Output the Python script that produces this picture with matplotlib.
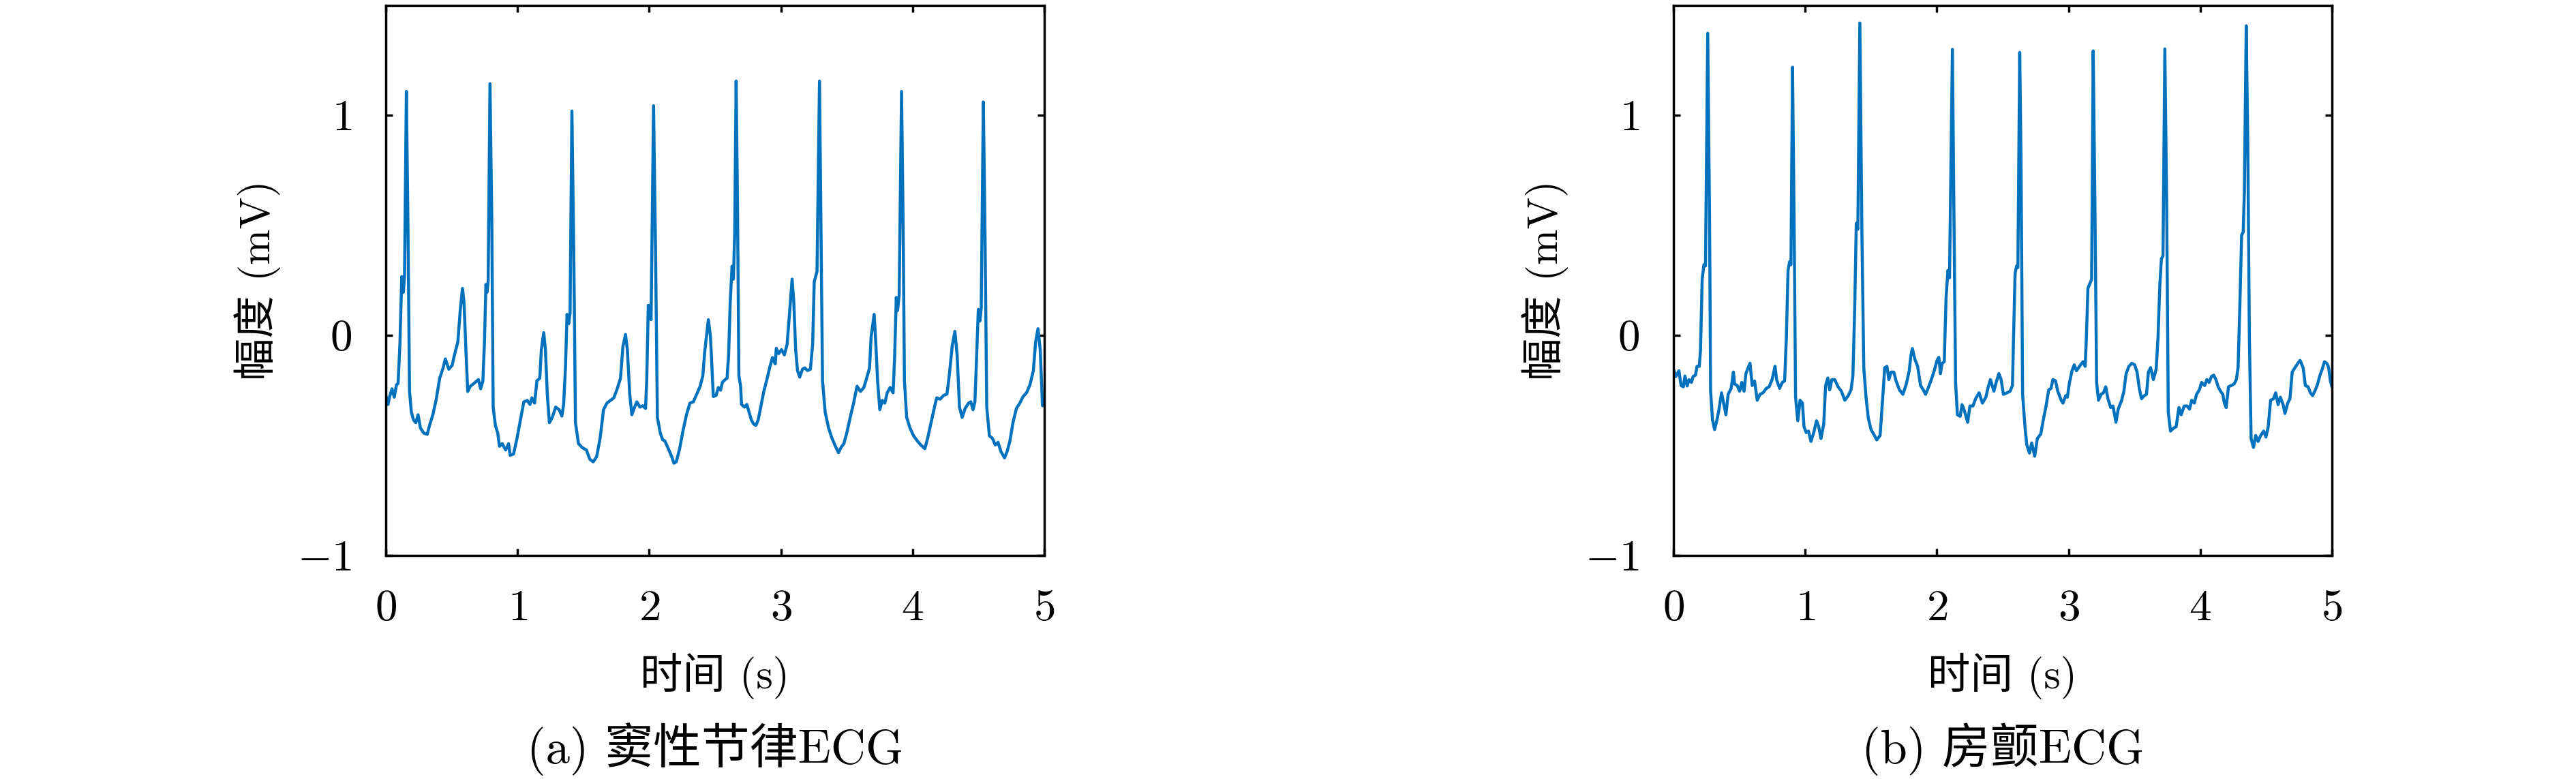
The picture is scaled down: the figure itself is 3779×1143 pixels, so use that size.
import matplotlib
matplotlib.use('Agg')
import matplotlib.pyplot as plt

plt.rcParams['mathtext.fontset'] = 'cm'
plt.rcParams['font.family'] = ['cmr10', 'Noto Sans CJK SC', 'DejaVu Sans']
plt.rcParams['axes.unicode_minus'] = False

# ---------------- data ----------------
sinus_t = [0.000, 0.017, 0.029, 0.047, 0.064, 0.081, 0.093, 0.107, 0.121, 0.133, 0.142, 0.156, 0.168, 0.180,
           0.194, 0.211, 0.228, 0.245, 0.263, 0.288, 0.314, 0.335, 0.357, 0.383, 0.409, 0.435, 0.452, 0.478,
           0.504, 0.521, 0.547, 0.565, 0.582, 0.594, 0.608, 0.622, 0.642, 0.668, 0.703, 0.720, 0.737, 0.749,
           0.760, 0.768, 0.777, 0.791, 0.805, 0.815, 0.832, 0.850, 0.863, 0.884, 0.910, 0.932, 0.944, 0.970,
           0.996, 1.022, 1.048, 1.074, 1.095, 1.109, 1.130, 1.147, 1.169, 1.181, 1.199, 1.212, 1.226, 1.242,
           1.264, 1.290, 1.316, 1.337, 1.350, 1.364, 1.376, 1.389, 1.399, 1.413, 1.427, 1.440, 1.463, 1.489,
           1.523, 1.549, 1.575, 1.601, 1.627, 1.653, 1.679, 1.705, 1.731, 1.757, 1.782, 1.800, 1.820, 1.834,
           1.852, 1.868, 1.889, 1.906, 1.929, 1.951, 1.972, 1.981, 1.993, 2.003, 2.014, 2.033, 2.048, 2.062,
           2.084, 2.102, 2.119, 2.145, 2.171, 2.188, 2.205, 2.231, 2.257, 2.283, 2.309, 2.335, 2.361, 2.387,
           2.407, 2.421, 2.449, 2.465, 2.487, 2.508, 2.525, 2.542, 2.556, 2.577, 2.591, 2.603, 2.615, 2.629,
           2.639, 2.649, 2.660, 2.670, 2.681, 2.694, 2.701, 2.724, 2.741, 2.758, 2.776, 2.793, 2.810, 2.827,
           2.845, 2.870, 2.896, 2.914, 2.936, 2.957, 2.965, 2.983, 3.005, 3.026, 3.047, 3.064, 3.085, 3.098,
           3.112, 3.126, 3.143, 3.164, 3.181, 3.202, 3.224, 3.241, 3.253, 3.264, 3.274, 3.293, 3.305, 3.316,
           3.336, 3.362, 3.388, 3.414, 3.437, 3.457, 3.478, 3.500, 3.526, 3.552, 3.578, 3.604, 3.630, 3.651,
           3.673, 3.685, 3.708, 3.720, 3.734, 3.751, 3.769, 3.789, 3.807, 3.829, 3.852, 3.864, 3.876, 3.886,
           3.898, 3.916, 3.928, 3.938, 3.955, 3.980, 4.007, 4.036, 4.062, 4.093, 4.114, 4.140, 4.166, 4.183,
           4.209, 4.235, 4.261, 4.278, 4.301, 4.321, 4.338, 4.356, 4.376, 4.399, 4.425, 4.442, 4.459, 4.473,
           4.485, 4.499, 4.511, 4.521, 4.537, 4.549, 4.563, 4.583, 4.606, 4.628, 4.649, 4.670, 4.698, 4.718,
           4.739, 4.762, 4.788, 4.814, 4.839, 4.865, 4.891, 4.917, 4.934, 4.952, 4.969, 4.986, 5.000]
sinus_v = [-0.273, -0.314, -0.278, -0.243, -0.281, -0.225, -0.219, -0.041, 0.267, 0.195, 0.267, 1.108, 0.504, -0.255,
           -0.349, -0.385, -0.397, -0.361, -0.421, -0.444, -0.450, -0.403, -0.361, -0.290, -0.195, -0.148, -0.107, -0.154,
           -0.136, -0.089, -0.030, 0.113, 0.213, 0.148, -0.065, -0.255, -0.231, -0.219, -0.201, -0.243, -0.207, -0.030,
           0.231, 0.195, 0.243, 1.143, 0.504, -0.326, -0.409, -0.444, -0.504, -0.492, -0.521, -0.492, -0.545, -0.539,
           -0.468, -0.385, -0.302, -0.296, -0.314, -0.284, -0.308, -0.207, -0.195, -0.065, 0.012, -0.065, -0.267, -0.397,
           -0.373, -0.326, -0.338, -0.367, -0.314, -0.148, 0.095, 0.053, 0.101, 1.019, 0.385, -0.397, -0.492, -0.509,
           -0.521, -0.563, -0.575, -0.551, -0.468, -0.338, -0.308, -0.296, -0.284, -0.243, -0.195, -0.053, 0.004, -0.065,
           -0.267, -0.361, -0.326, -0.302, -0.326, -0.320, -0.332, -0.207, 0.136, 0.136, 0.071, 1.043, 0.385, -0.373,
           -0.444, -0.474, -0.480, -0.515, -0.551, -0.581, -0.575, -0.515, -0.432, -0.361, -0.308, -0.302, -0.267, -0.231,
           -0.184, -0.077, 0.071, -0.006, -0.278, -0.273, -0.237, -0.249, -0.213, -0.201, -0.195, -0.089, 0.148, 0.314,
           0.255, 0.456, 1.155, 0.622, -0.184, -0.231, -0.314, -0.326, -0.314, -0.349, -0.385, -0.403, -0.409, -0.385,
           -0.332, -0.255, -0.195, -0.148, -0.101, -0.130, -0.059, -0.083, -0.065, -0.089, -0.041, 0.089, 0.255, 0.148,
           -0.065, -0.160, -0.190, -0.154, -0.148, -0.160, -0.154, -0.041, 0.243, 0.267, 0.290, 1.155, 0.444, -0.207,
           -0.349, -0.421, -0.468, -0.504, -0.533, -0.509, -0.492, -0.444, -0.373, -0.308, -0.231, -0.255, -0.237, -0.195,
           -0.148, -0.006, 0.095, -0.030, -0.207, -0.338, -0.296, -0.308, -0.261, -0.237, -0.261, -0.089, 0.172, 0.113,
           0.184, 1.108, 0.504, -0.207, -0.373, -0.421, -0.456, -0.480, -0.498, -0.515, -0.468, -0.397, -0.326, -0.284,
           -0.290, -0.273, -0.267, -0.184, -0.047, 0.018, -0.089, -0.326, -0.373, -0.332, -0.308, -0.302, -0.338, -0.302,
           -0.113, 0.118, 0.065, 0.124, 1.060, 0.504, -0.326, -0.456, -0.468, -0.498, -0.486, -0.527, -0.557, -0.527,
           -0.480, -0.397, -0.332, -0.308, -0.278, -0.261, -0.225, -0.160, -0.030, 0.030, -0.065, -0.320, -0.314]

af_t = [0.000, 0.018, 0.041, 0.058, 0.075, 0.087, 0.104, 0.118, 0.136, 0.149, 0.167, 0.179, 0.196, 0.205,
        0.218, 0.231, 0.243, 0.260, 0.274, 0.282, 0.296, 0.312, 0.329, 0.346, 0.365, 0.381, 0.398, 0.415,
        0.438, 0.455, 0.464, 0.484, 0.502, 0.519, 0.536, 0.550, 0.567, 0.581, 0.598, 0.616, 0.636, 0.657,
        0.680, 0.705, 0.726, 0.749, 0.771, 0.783, 0.806, 0.826, 0.844, 0.857, 0.870, 0.882, 0.892, 0.904,
        0.916, 0.927, 0.944, 0.961, 0.979, 0.991, 1.008, 1.025, 1.044, 1.065, 1.086, 1.103, 1.120, 1.141,
        1.155, 1.172, 1.186, 1.203, 1.224, 1.250, 1.275, 1.301, 1.327, 1.348, 1.362, 1.376, 1.388, 1.400,
        1.415, 1.431, 1.445, 1.462, 1.479, 1.500, 1.526, 1.543, 1.569, 1.586, 1.604, 1.621, 1.635, 1.652,
        1.673, 1.690, 1.716, 1.742, 1.768, 1.790, 1.802, 1.814, 1.832, 1.854, 1.876, 1.897, 1.914, 1.935,
        1.958, 1.980, 2.001, 2.015, 2.027, 2.040, 2.056, 2.070, 2.084, 2.096, 2.118, 2.130, 2.142, 2.156,
        2.177, 2.191, 2.208, 2.234, 2.251, 2.274, 2.294, 2.320, 2.346, 2.372, 2.390, 2.407, 2.433, 2.450,
        2.471, 2.488, 2.505, 2.533, 2.556, 2.574, 2.582, 2.594, 2.605, 2.615, 2.629, 2.639, 2.651, 2.669,
        2.682, 2.703, 2.720, 2.743, 2.763, 2.789, 2.807, 2.829, 2.849, 2.867, 2.881, 2.901, 2.918, 2.944,
        2.957, 2.979, 2.991, 3.005, 3.026, 3.043, 3.060, 3.083, 3.109, 3.126, 3.135, 3.147, 3.161, 3.175,
        3.187, 3.199, 3.213, 3.227, 3.247, 3.265, 3.282, 3.299, 3.320, 3.337, 3.360, 3.377, 3.403, 3.420,
        3.437, 3.458, 3.480, 3.502, 3.520, 3.537, 3.554, 3.575, 3.592, 3.606, 3.623, 3.644, 3.665, 3.679,
        3.693, 3.705, 3.717, 3.731, 3.745, 3.757, 3.774, 3.797, 3.817, 3.838, 3.855, 3.878, 3.900, 3.918,
        3.935, 3.955, 3.972, 3.993, 4.010, 4.033, 4.050, 4.067, 4.085, 4.102, 4.119, 4.136, 4.154, 4.171,
        4.183, 4.197, 4.214, 4.235, 4.257, 4.274, 4.287, 4.300, 4.314, 4.326, 4.335, 4.349, 4.361, 4.373,
        4.386, 4.404, 4.421, 4.439, 4.459, 4.482, 4.499, 4.516, 4.534, 4.556, 4.573, 4.591, 4.608, 4.629,
        4.643, 4.664, 4.681, 4.698, 4.719, 4.741, 4.758, 4.781, 4.798, 4.819, 4.836, 4.853, 4.874, 4.891,
        4.909, 4.926, 4.943, 4.961, 4.975, 4.988, 5.000]
af_v = [-0.154, -0.187, -0.161, -0.228, -0.234, -0.185, -0.230, -0.201, -0.214, -0.187, -0.181, -0.141, -0.141, -0.067,
        0.254, 0.321, 0.315, 1.372, 0.522, -0.254, -0.382, -0.428, -0.388, -0.335, -0.261, -0.308, -0.361, -0.268,
        -0.241, -0.167, -0.221, -0.228, -0.254, -0.214, -0.254, -0.174, -0.147, -0.127, -0.228, -0.208, -0.295, -0.268,
        -0.261, -0.241, -0.234, -0.201, -0.141, -0.201, -0.241, -0.214, -0.207, -0.013, 0.295, 0.335, 0.321, 1.218,
        0.522, -0.281, -0.388, -0.295, -0.308, -0.415, -0.442, -0.435, -0.482, -0.442, -0.388, -0.415, -0.469, -0.402,
        -0.228, -0.194, -0.248, -0.201, -0.201, -0.234, -0.254, -0.295, -0.274, -0.248, -0.187, 0.120, 0.509, 0.482,
        1.419, 0.455, -0.147, -0.281, -0.375, -0.428, -0.455, -0.475, -0.455, -0.308, -0.147, -0.141, -0.201, -0.167,
        -0.167, -0.207, -0.248, -0.268, -0.221, -0.161, -0.094, -0.060, -0.107, -0.141, -0.228, -0.248, -0.268, -0.238,
        -0.201, -0.161, -0.114, -0.100, -0.174, -0.127, -0.120, 0.174, 0.295, 0.261, 1.299, 0.522, -0.214, -0.361,
        -0.368, -0.315, -0.341, -0.395, -0.321, -0.321, -0.288, -0.261, -0.308, -0.281, -0.234, -0.201, -0.254, -0.214,
        -0.174, -0.201, -0.268, -0.261, -0.254, -0.228, -0.013, 0.281, 0.315, 0.308, 1.285, 0.790, -0.268, -0.415,
        -0.495, -0.535, -0.489, -0.549, -0.469, -0.448, -0.388, -0.321, -0.248, -0.241, -0.201, -0.207, -0.254, -0.295,
        -0.308, -0.274, -0.281, -0.221, -0.161, -0.134, -0.161, -0.141, -0.120, -0.141, -0.013, 0.214, 0.234, 0.254,
        1.292, 0.656, -0.214, -0.295, -0.268, -0.261, -0.234, -0.288, -0.328, -0.321, -0.395, -0.335, -0.295, -0.254,
        -0.174, -0.141, -0.127, -0.134, -0.167, -0.241, -0.288, -0.274, -0.268, -0.167, -0.147, -0.201, -0.154, -0.013,
        0.228, 0.348, 0.361, 1.301, 0.589, -0.348, -0.435, -0.422, -0.415, -0.328, -0.361, -0.321, -0.321, -0.335,
        -0.295, -0.308, -0.268, -0.248, -0.214, -0.228, -0.201, -0.214, -0.187, -0.181, -0.201, -0.234, -0.254, -0.268,
        -0.308, -0.328, -0.234, -0.228, -0.221, -0.201, -0.147, 0.120, 0.455, 0.469, 0.656, 1.406, 0.857, -0.013,
        -0.469, -0.509, -0.455, -0.482, -0.455, -0.435, -0.462, -0.415, -0.295, -0.288, -0.261, -0.315, -0.281, -0.315,
        -0.355, -0.308, -0.288, -0.167, -0.147, -0.127, -0.114, -0.147, -0.228, -0.234, -0.261, -0.274, -0.248, -0.221,
        -0.181, -0.154, -0.120, -0.127, -0.147, -0.207, -0.234]

x_ticks = [0, 1, 2, 3, 4, 5]
x_ticklabels = ['$0$', '$1$', '$2$', '$3$', '$4$', '$5$']
y_ticks = [-1, 0, 1]
y_ticklabels = ['$-1$', '$0$', '$1$']
xlabel_text = '时间 (s)'
ylabel_text = '幅度 (mV)'
captions = ['(a) 窦性节律ECG', '(b) 房颤ECG']

LINE_COLOR = '#0072BD'

W, H = 3780, 1143
fig = plt.figure(figsize=(W / 100, H / 100), dpi=100)

ax_h = 807.5 / H
ax_w = 966 / W
ax_bottom = 1 - 815 / H
axes = [fig.add_axes([566 / W, ax_bottom, ax_w, ax_h]),
        fig.add_axes([2455 / W, ax_bottom, ax_w, ax_h])]

series = [(sinus_t, sinus_v), (af_t, af_v)]

for ax, (t, v), cap in zip(axes, series, captions):
    ax.plot(t, v, color=LINE_COLOR, lw=3.2, solid_joinstyle='round', solid_capstyle='round')
    ax.set_xlim(0, 5)
    ax.set_ylim(-1, 1.5)
    ax.set_xticks(x_ticks, x_ticklabels)
    ax.set_yticks(y_ticks, y_ticklabels)
    ax.tick_params(direction='in', top=True, right=True, length=7.5, width=2.5,
                   labelsize=47, pad=36, color='black')
    for sp in ax.spines.values():
        sp.set_linewidth(2.5)
        sp.set_color('black')
    ax.set_xlabel(xlabel_text, fontsize=45, va='center', ha='center')
    ax.xaxis.set_label_coords(0.5, -0.219)
    ax.set_ylabel(ylabel_text, fontsize=45, va='center', ha='center')
    ax.yaxis.set_label_coords(-0.1946, 0.5)
    ax.text(0.5, -0.352, cap, transform=ax.transAxes, ha='center', va='center', fontsize=51)

fig.savefig('out.png', dpi=100)
